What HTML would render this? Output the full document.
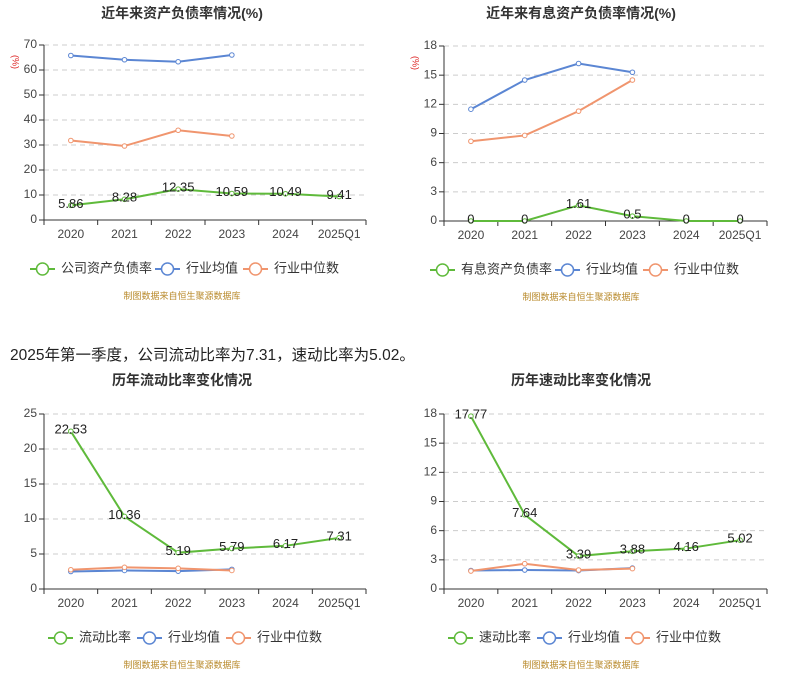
<!DOCTYPE html>
<html><head><meta charset="utf-8">
<style>
html,body{margin:0;padding:0;background:#fff;width:786px;height:699px;overflow:hidden}
svg{display:block;font-family:"Liberation Sans","Noto Sans CJK SC",sans-serif}
</style></head>
<body>
<svg id="s" width="786" height="699" xmlns="http://www.w3.org/2000/svg"></svg>
<script>
const G='#5fba3b',B='#5b86d3',O='#f0956e';
let h='';
function chart(o){
  const {x0,x1,yt,yb,max,step,title,tx,data,avg,med,legend,unit,ty}=o;
  const bw=(x1-x0)/6;
  const Y=v=>yb-(v/max)*(yb-yt);
  const X=i=>x0+bw*(i+0.5);
  h+=`<text x="${tx}" y="${ty}" font-size="14" font-weight="bold" fill="#333" text-anchor="middle">${title}</text>`;
  if(unit) h+=`<text transform="translate(${x0-29},${yt+17}) rotate(90)" font-size="9" fill="#d22" text-anchor="middle" dominant-baseline="middle">(%)</text>`;
  for(let v=0;v<=max+1e-9;v+=step){
    const y=Y(v);
    if(v>0) h+=`<line x1="${x0}" x2="${x1}" y1="${y}" y2="${y}" stroke="#ccc" stroke-dasharray="5,4"/>`;
    h+=`<line x1="${x0-5}" x2="${x0}" y1="${y}" y2="${y}" stroke="#333"/>`;
    h+=`<text x="${x0-7}" y="${y}" font-size="12" fill="#444" text-anchor="end" dominant-baseline="middle">${+v.toFixed(2)}</text>`;
  }
  h+=`<line x1="${x0}" x2="${x0}" y1="${yt}" y2="${yb}" stroke="#333"/>`;
  h+=`<line x1="${x0}" x2="${x1}" y1="${yb}" y2="${yb}" stroke="#333"/>`;
  const cats=['2020','2021','2022','2023','2024','2025Q1'];
  for(let i=0;i<=6;i++) h+=`<line x1="${x0+bw*i}" x2="${x0+bw*i}" y1="${yb}" y2="${yb+5}" stroke="#333"/>`;
  cats.forEach((c,i)=>h+=`<text x="${X(i)}" y="${yb+18}" font-size="12" fill="#444" text-anchor="middle">${c}</text>`);
  function line(d,c,lab){
    h+=`<polyline fill="none" stroke="${c}" stroke-width="2" points="${d.map((v,i)=>X(i)+','+Y(v)).join(' ')}"/>`;
    d.forEach((v,i)=>h+=`<circle cx="${X(i)}" cy="${Y(v)}" r="2.3" fill="#fff" stroke="${c}" stroke-width="1"/>`);
    if(lab) d.forEach((v,i)=>h+=`<text x="${X(i)}" y="${Y(v)-1}" font-size="13" fill="#222" text-anchor="middle" dominant-baseline="middle">${v}</text>`);
  }
  line(avg,B);line(med,O);line(data,G,true);
  const ly=yb+49;
  legend.forEach(([x,t,c])=>{
    h+=`<line x1="${x}" x2="${x+25}" y1="${ly}" y2="${ly}" stroke="${c}" stroke-width="2"/><circle cx="${x+12.5}" cy="${ly}" r="6" fill="#fff" stroke="${c}" stroke-width="1.5"/>`;
    h+=`<text x="${x+31}" y="${ly}" font-size="13" fill="#333" dominant-baseline="middle">${t}</text>`;
  });
  h+=`<text x="${tx}" y="${yb+79}" font-size="9" fill="#b8892a" text-anchor="middle">制图数据来自恒生聚源数据库</text>`;
}
chart({x0:44,x1:366,yt:45,yb:220,max:70,step:10,title:'近年来资产负债率情况(%)',tx:182,ty:18,unit:1,
 data:[5.86,8.28,12.35,10.59,10.49,9.41],avg:[65.8,64.1,63.3,66],med:[31.8,29.6,35.9,33.6],
 legend:[[30,'公司资产负债率',G],[155,'行业均值',B],[243,'行业中位数',O]]});
chart({x0:444,x1:767,yt:46,yb:221,max:18,step:3,title:'近年来有息资产负债率情况(%)',tx:581,ty:18,unit:1,
 data:[0,0,1.61,0.5,0,0],avg:[11.5,14.5,16.2,15.3],med:[8.2,8.8,11.3,14.5],
 legend:[[430,'有息资产负债率',G],[555,'行业均值',B],[643,'行业中位数',O]]});
h+=`<text x="10" y="360" font-size="15.5" fill="#222">2025年第一季度，公司流动比率为7.31，速动比率为5.02。</text>`;
chart({x0:44,x1:366,yt:414,yb:589,max:25,step:5,title:'历年流动比率变化情况',tx:182,ty:385,
 data:[22.53,10.36,5.19,5.79,6.17,7.31],avg:[2.5,2.65,2.55,2.8],med:[2.75,3.1,2.95,2.65],
 legend:[[48,'流动比率',G],[137,'行业均值',B],[226,'行业中位数',O]]});
chart({x0:444,x1:767,yt:414,yb:589,max:18,step:3,title:'历年速动比率变化情况',tx:581,ty:385,
 data:[17.77,7.64,3.39,3.88,4.16,5.02],avg:[1.9,1.95,1.9,2.15],med:[1.85,2.6,1.95,2.1],
 legend:[[448,'速动比率',G],[537,'行业均值',B],[625,'行业中位数',O]]});
document.getElementById('s').innerHTML=h;
</script>
</body></html>
